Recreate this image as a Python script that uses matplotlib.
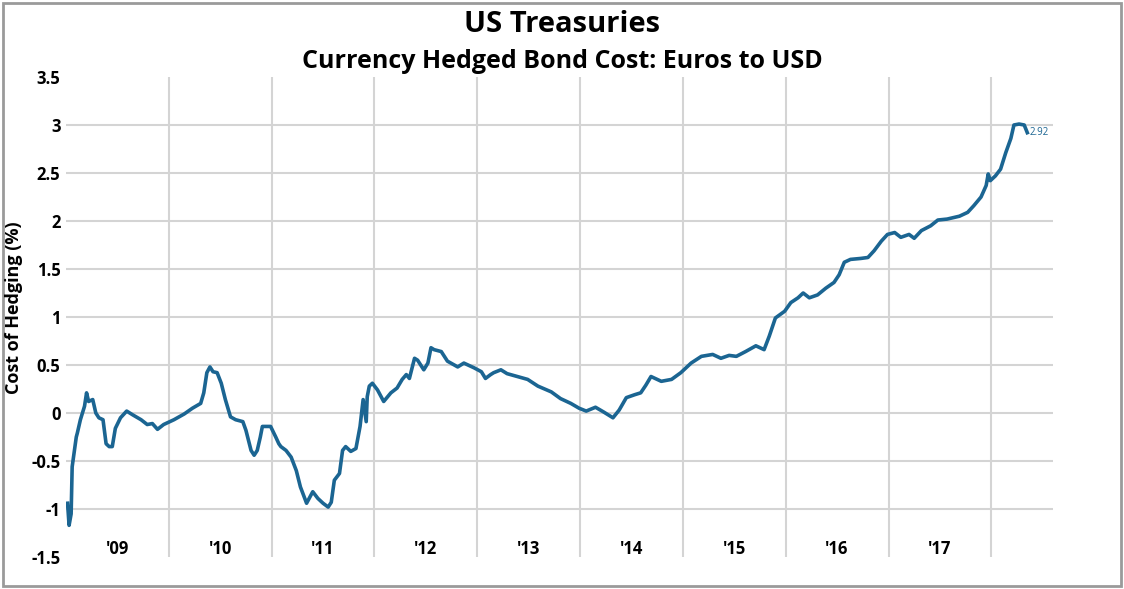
import numpy as np
import matplotlib
matplotlib.use("Agg")
import matplotlib.pyplot as plt
from matplotlib.patches import Rectangle

# ── Data (decimal year, cost of hedging %) ─────────────────────────────
DATES = [
    2009.015, 2009.03, 2009.05, 2009.06, 2009.10, 2009.11, 2009.14, 2009.18,
    2009.20, 2009.22, 2009.26, 2009.29, 2009.32, 2009.36, 2009.39, 2009.42,
    2009.45, 2009.48, 2009.53, 2009.59, 2009.65, 2009.73, 2009.79, 2009.84,
    2009.89, 2009.95, 2010.05, 2010.15, 2010.23, 2010.31, 2010.34, 2010.37,
    2010.40, 2010.43, 2010.47, 2010.51, 2010.55, 2010.60, 2010.65, 2010.72,
    2010.75, 2010.80, 2010.83, 2010.86, 2010.89, 2010.91, 2010.94, 2010.99,
    2011.04, 2011.07, 2011.09, 2011.14, 2011.19, 2011.24, 2011.28, 2011.34,
    2011.40, 2011.45, 2011.50, 2011.55, 2011.58, 2011.61, 2011.66, 2011.69,
    2011.72, 2011.77, 2011.82, 2011.86, 2011.89, 2011.92, 2011.93, 2011.95,
    2011.98, 2012.03, 2012.09, 2012.16, 2012.22, 2012.27, 2012.31, 2012.34,
    2012.39, 2012.42, 2012.48, 2012.52, 2012.55, 2012.58, 2012.65, 2012.71,
    2012.81, 2012.87, 2012.97, 2013.04, 2013.08, 2013.13, 2013.16, 2013.23,
    2013.29, 2013.39, 2013.49, 2013.59, 2013.72, 2013.81, 2013.91, 2013.99,
    2014.06, 2014.15, 2014.23, 2014.32, 2014.38, 2014.45, 2014.53, 2014.59,
    2014.64, 2014.69, 2014.79, 2014.89, 2014.98, 2015.08, 2015.18, 2015.29,
    2015.37, 2015.45, 2015.52, 2015.61, 2015.71, 2015.79, 2015.84, 2015.90,
    2015.99, 2016.05, 2016.12, 2016.17, 2016.23, 2016.31, 2016.39, 2016.47,
    2016.52, 2016.57, 2016.63, 2016.73, 2016.80, 2016.86, 2016.93, 2016.99,
    2017.06, 2017.12, 2017.20, 2017.25, 2017.32, 2017.41, 2017.48, 2017.57,
    2017.69, 2017.77, 2017.83, 2017.90, 2017.95, 2017.97, 2017.99, 2018.04,
    2018.09, 2018.14, 2018.19, 2018.22, 2018.27, 2018.32, 2018.35,
]
COST = [
    -0.94, -1.17, -1.05, -0.56, -0.25, -0.21, -0.07, 0.07,
    0.21, 0.12, 0.14, 0.00, -0.05, -0.07, -0.32, -0.35,
    -0.35, -0.16, -0.05, 0.02, -0.02, -0.07, -0.12, -0.11,
    -0.17, -0.12, -0.07, -0.01, 0.05, 0.10, 0.21, 0.42,
    0.48, 0.43, 0.42, 0.31, 0.14, -0.04, -0.07, -0.09,
    -0.18, -0.39, -0.44, -0.39, -0.25, -0.14, -0.14, -0.14,
    -0.25, -0.32, -0.35, -0.39, -0.46, -0.60, -0.77, -0.94,
    -0.82, -0.89, -0.94, -0.98, -0.93, -0.70, -0.63, -0.39,
    -0.35, -0.40, -0.37, -0.14, 0.14, -0.09, 0.17, 0.28,
    0.31, 0.24, 0.12, 0.21, 0.26, 0.35, 0.40, 0.36,
    0.57, 0.55, 0.45, 0.52, 0.68, 0.66, 0.64, 0.54,
    0.48, 0.52, 0.47, 0.43, 0.36, 0.40, 0.42, 0.45,
    0.41, 0.38, 0.35, 0.28, 0.22, 0.15, 0.10, 0.05,
    0.02, 0.06, 0.01, -0.05, 0.03, 0.16, 0.19, 0.21,
    0.29, 0.38, 0.33, 0.35, 0.42, 0.52, 0.59, 0.61,
    0.57, 0.60, 0.59, 0.64, 0.70, 0.66, 0.80, 0.99,
    1.06, 1.15, 1.20, 1.25, 1.20, 1.23, 1.30, 1.36,
    1.44, 1.57, 1.60, 1.61, 1.62, 1.69, 1.79, 1.86,
    1.88, 1.83, 1.86, 1.82, 1.90, 1.95, 2.01, 2.02,
    2.05, 2.09, 2.16, 2.25, 2.37, 2.49, 2.42, 2.47,
    2.54, 2.71, 2.86, 3.00, 3.01, 3.00, 2.92,
]
YEARS = list(range(2009, 2018))
YEAR_LABELS = ["'09", "'10", "'11", "'12", "'13", "'14", "'15", "'16", "'17"]
Y_TICKS = [-1.5, -1, -0.5, 0, 0.5, 1, 1.5, 2, 2.5, 3, 3.5]
Y_GRID = [-1, -0.5, 0, 0.5, 1, 1.5, 2, 2.5, 3]
LAST_LABEL = "2.92"

plt.rcParams['font.family'] = ['Open Sans', 'DejaVu Sans']
LINE_COL = '#1b6592'
GRID_COL = '#d4d4d4'

W, H = 1124, 589
fig = plt.figure(figsize=(W/100, H/100), dpi=100)
ax = fig.add_axes([66/W, 1 - 557/H, (1053 - 66)/W, (557 - 77)/H])

# grid (drawn by hand so horizontal lines skip the -1.5 / 3.5 edges)
for yr in range(2010, 2019):
    ax.axvline(yr, color=GRID_COL, lw=1.5, zorder=1)
for g in Y_GRID:
    ax.axhline(g, color=GRID_COL, lw=1.5, zorder=1)

ax.plot(DATES, COST, color=LINE_COL, lw=2.6, zorder=3, solid_joinstyle='round')
ax.text(DATES[-1] + 0.02, COST[-1], LAST_LABEL, color=LINE_COL,
        fontsize=7, va='center', ha='left')

ax.set_xlim(2009.0, 2018.6)
ax.set_ylim(-1.5, 3.5)
ax.set_yticks(Y_TICKS)
ax.set_yticklabels([f'{v:g}' for v in Y_TICKS], fontsize=12, fontweight='bold')
ax.set_xticks([y + 0.5 for y in YEARS])
ax.set_xticklabels(YEAR_LABELS, fontsize=12, fontweight='bold')
ax.tick_params(axis='y', length=0, pad=4)
ax.tick_params(axis='x', length=0, pad=-12)
for s in ax.spines.values():
    s.set_visible(False)

fig.text(14/W, 1 - 308/H, 'Cost of Hedging (%)', rotation=90, ha='center',
         va='center', fontsize=13, fontweight='bold')

fig.text(562/W, 1 - 24/H, 'US Treasuries', ha='center', va='center',
         fontsize=21, fontweight='bold')
fig.text(562/W, 1 - 61/H, 'Currency Hedged Bond Cost: Euros to USD',
         ha='center', va='center', fontsize=18, fontweight='bold')

fig.patches.append(Rectangle((0.003, 0.005), 0.994, 0.99, transform=fig.transFigure,
                             fill=False, edgecolor='#9a9a9a', lw=2))

fig.savefig('out.png', dpi=100)
